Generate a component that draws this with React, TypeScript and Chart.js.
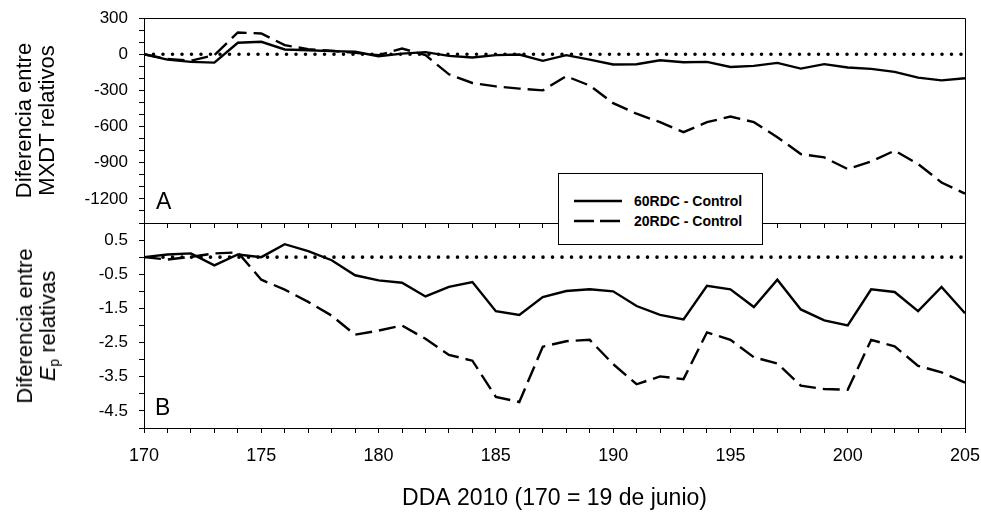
import React, { useEffect, useRef } from 'react';
import { Chart, registerables } from 'chart.js';

Chart.register(...registerables);

// ---------- data ----------
const days = [170, 171, 172, 173, 174, 175, 176, 177, 178, 179, 180, 181, 182, 183, 184, 185, 186, 187,
  188, 189, 190, 191, 192, 193, 194, 195, 196, 197, 198, 199, 200, 201, 202, 203, 204, 205];

// Panel A: Diferencia entre MXDT relativos
const mxdt60 = [0, -45, -64, -70, 95, 103, 39, 33, 25, 20, -17, 5, 17, -14, -28, -8, -3, -55,
  -8, -45, -86, -83, -50, -67, -64, -106, -97, -72, -120, -83, -111, -122, -147, -194, -217, -200];
const mxdt20 = [0, -40, -55, -8, 180, 172, 75, 42, 28, 11, -8, 47, -8, -167, -239, -267, -286, -300,
  -183, -260, -406, -494, -564, -647, -564, -517, -564, -689, -828, -856, -953, -889, -800, -911, -1064, -1156];

// Panel B: Diferencia entre Ep relativas
const ep60 = [0, 0.08, 0.11, -0.24, 0.08, 0.0, 0.38, 0.18, -0.09, -0.53, -0.68, -0.75, -1.15, -0.87, -0.73, -1.58, -1.69, -1.17,
  -0.99, -0.94, -1.0, -1.43, -1.69, -1.82, -0.84, -0.94, -1.46, -0.66, -1.53, -1.85, -2.0, -0.94, -1.02, -1.58, -0.87, -1.64];
const ep20 = [0, -0.07, 0.01, 0.11, 0.14, -0.66, -0.95, -1.31, -1.71, -2.27, -2.15, -2.0, -2.39, -2.86, -3.03, -4.09, -4.24, -2.62,
  -2.46, -2.42, -3.13, -3.72, -3.49, -3.57, -2.2, -2.42, -2.93, -3.11, -3.76, -3.86, -3.88, -2.42, -2.61, -3.18, -3.37, -3.67];

const xTickLabels = [170, 175, 180, 185, 190, 195, 200, 205];
const topTickLabels = [300, 0, -300, -600, -900, -1200];
const bottomTickLabels = [0.5, -0.5, -1.5, -2.5, -3.5, -4.5];

const seriesNames = ['60RDC - Control', '20RDC - Control'];
const xTitle = 'DDA 2010 (170 = 19 de junio)';
const topYTitle = ['Diferencia entre', 'MXDT relativos'];

// ---------- styling ----------
const FONT = "'Liberation Sans', Arial, Helvetica, sans-serif";
const W = 981;
const PLOT_LEFT = 144;
const PLOT_RIGHT = 965;
const DASH = [17, 7];
const DOTS = [0, 9.5];
const YTITLE_SIZE = 22;
const YTITLE_LH = 23;

const framePlugin = {
  id: 'frame',
  afterDraw(chart: any) {
    const { ctx, chartArea } = chart;
    const l = Math.round(chartArea.left) + 0.5;
    const t = Math.round(chartArea.top) + 0.5;
    const r = Math.round(chartArea.right) + 0.5;
    const b = Math.round(chartArea.bottom) + 0.5;
    ctx.save();
    ctx.strokeStyle = '#000';
    ctx.lineWidth = 1;
    ctx.beginPath();
    ctx.moveTo(l, t);
    ctx.lineTo(r, t);
    ctx.lineTo(r, b);
    ctx.lineTo(l, b);
    ctx.closePath();
    ctx.stroke();
    ctx.restore();
  },
};

function toPoints(ys: number[]) {
  return days.map((d, i) => ({ x: d, y: ys[i] }));
}

function makeDatasets(a: number[], b: number[]) {
  return [
    {
      label: 'cero',
      data: [{ x: days[0], y: 0 }, { x: days[days.length - 1], y: 0 }],
      borderColor: '#000',
      borderWidth: 3.6,
      borderDash: DOTS,
      borderCapStyle: 'round',
      pointRadius: 0,
      tension: 0,
    },
    {
      label: seriesNames[0],
      data: toPoints(a),
      borderColor: '#000',
      borderWidth: 2.4,
      pointRadius: 0,
      tension: 0,
    },
    {
      label: seriesNames[1],
      data: toPoints(b),
      borderColor: '#000',
      borderWidth: 2.4,
      borderDash: DASH,
      pointRadius: 0,
      tension: 0,
    },
  ];
}

function makeOptions(kind: 'top' | 'bottom'): any {
  const isTop = kind === 'top';
  return {
    responsive: false,
    animation: false,
    devicePixelRatio: 1,
    events: [],
    layout: {
      padding: { left: 0, right: W - PLOT_RIGHT, top: isTop ? 18 : 23, bottom: 0 },
    },
    plugins: {
      legend: { display: false },
      tooltip: { enabled: false },
    },
    scales: {
      x: {
        type: 'linear',
        min: 170,
        max: 205,
        afterFit: (s: any) => {
          s.height = isTop ? 10 : 85;
          s.paddingLeft = 0;
          s.paddingRight = 0;
        },
        ticks: {
          display: !isTop,
          stepSize: 1,
          autoSkip: false,
          maxRotation: 0,
          padding: 12,
          color: '#000',
          font: { family: FONT, size: 18 },
          callback: (v: number) => (xTickLabels.includes(v) ? String(v) : ''),
        },
        grid: {
          drawOnChartArea: false,
          drawTicks: true,
          tickLength: 5,
          color: '#000',
          lineWidth: 1,
        },
        border: { display: true, color: '#000', width: 1 },
        title: {
          display: !isTop,
          text: xTitle,
          color: '#000',
          font: { family: FONT, size: 23, lineHeight: 1.2 },
          padding: { top: 0, bottom: 1 },
        },
      },
      y: {
        type: 'linear',
        min: isTop ? -1400 : -5,
        max: isTop ? 300 : 1,
        afterFit: (s: any) => {
          s.width = PLOT_LEFT;
          s.paddingTop = 0;
          s.paddingBottom = 0;
        },
        ticks: {
          stepSize: isTop ? 100 : 0.5,
          autoSkip: false,
          padding: 11,
          color: '#000',
          font: { family: FONT, size: 17 },
          callback: (v: number) => {
            if (isTop) return topTickLabels.includes(v) ? String(v) : '';
            const hit = bottomTickLabels.find((t) => Math.abs(t - v) < 1e-6);
            return hit !== undefined ? hit.toFixed(1) : '';
          },
        },
        grid: {
          drawOnChartArea: false,
          drawTicks: true,
          tickLength: 5,
          color: '#000',
          lineWidth: 1,
        },
        border: { display: true, color: '#000', width: 1 },
        title: {
          display: isTop,
          text: topYTitle,
          color: '#000',
          font: { family: FONT, size: YTITLE_SIZE, lineHeight: YTITLE_LH / YTITLE_SIZE },
          padding: { top: 13, bottom: 0 },
        },
      },
    },
  };
}

function LegendSample({ dashed }: { dashed: boolean }) {
  return (
    <svg width={48} height={6} style={{ display: 'block' }}>
      <line
        x1={0}
        y1={3}
        x2={48}
        y2={3}
        stroke="#000"
        strokeWidth={2.4}
        strokeDasharray={dashed ? '20 6' : undefined}
      />
    </svg>
  );
}

export default function App() {
  const topRef = useRef<HTMLCanvasElement>(null);
  const botRef = useRef<HTMLCanvasElement>(null);

  useEffect(() => {
    const top = new Chart(topRef.current as HTMLCanvasElement, {
      type: 'line',
      data: { datasets: makeDatasets(mxdt60, mxdt20) as any },
      options: makeOptions('top'),
      plugins: [framePlugin],
    });
    const bot = new Chart(botRef.current as HTMLCanvasElement, {
      type: 'line',
      data: { datasets: makeDatasets(ep60, ep20) as any },
      options: makeOptions('bottom'),
      plugins: [framePlugin],
    });
    return () => {
      top.destroy();
      bot.destroy();
    };
  }, []);

  const panelLetter: React.CSSProperties = {
    position: 'absolute',
    fontFamily: FONT,
    fontSize: 23,
    lineHeight: '23px',
    color: '#000',
  };

  return (
    <div style={{ position: 'absolute', left: 0, top: 0, width: W, height: 513, background: '#fff', overflow: 'hidden' }}>
      <canvas
        ref={topRef}
        width={W}
        height={233}
        style={{ position: 'absolute', left: 0, top: 0, width: W, height: 233 }}
      />
      <canvas
        ref={botRef}
        width={W}
        height={313}
        style={{ position: 'absolute', left: 0, top: 200, width: W, height: 313 }}
      />
      {/* bottom panel y title */}
      <div
        style={{
          position: 'absolute',
          left: 13 + YTITLE_LH,
          top: 325.5,
          transform: 'translate(-50%, -50%) rotate(-90deg)',
          whiteSpace: 'nowrap',
          textAlign: 'center',
          fontFamily: FONT,
          fontSize: YTITLE_SIZE,
          lineHeight: `${YTITLE_LH}px`,
          color: '#000',
        }}
      >
        <div>Diferencia entre</div>
        <div>
          <i>E</i>
          <sub style={{ fontSize: 14, lineHeight: 0, verticalAlign: '-4px' }}>p</sub> relativas
        </div>
      </div>
      <div style={{ ...panelLetter, left: 156, top: 190 }}>A</div>
      <div style={{ ...panelLetter, left: 155, top: 396 }}>B</div>
      {/* legend */}
      <div
        style={{
          position: 'absolute',
          left: 558,
          top: 173,
          width: 205,
          height: 72,
          boxSizing: 'border-box',
          border: '1px solid #000',
          background: '#fff',
          fontFamily: FONT,
          fontWeight: 'bold',
          fontSize: 14,
          color: '#000',
        }}
      >
        {seriesNames.map((name, i) => (
          <div
            key={name}
            style={{
              position: 'absolute',
              left: 15,
              top: i === 0 ? 18 : 38,
              height: 18,
              display: 'flex',
              alignItems: 'center',
              whiteSpace: 'nowrap',
            }}
          >
            <LegendSample dashed={i === 1} />
            <span style={{ marginLeft: 12 }}>{name}</span>
          </div>
        ))}
      </div>
    </div>
  );
}
